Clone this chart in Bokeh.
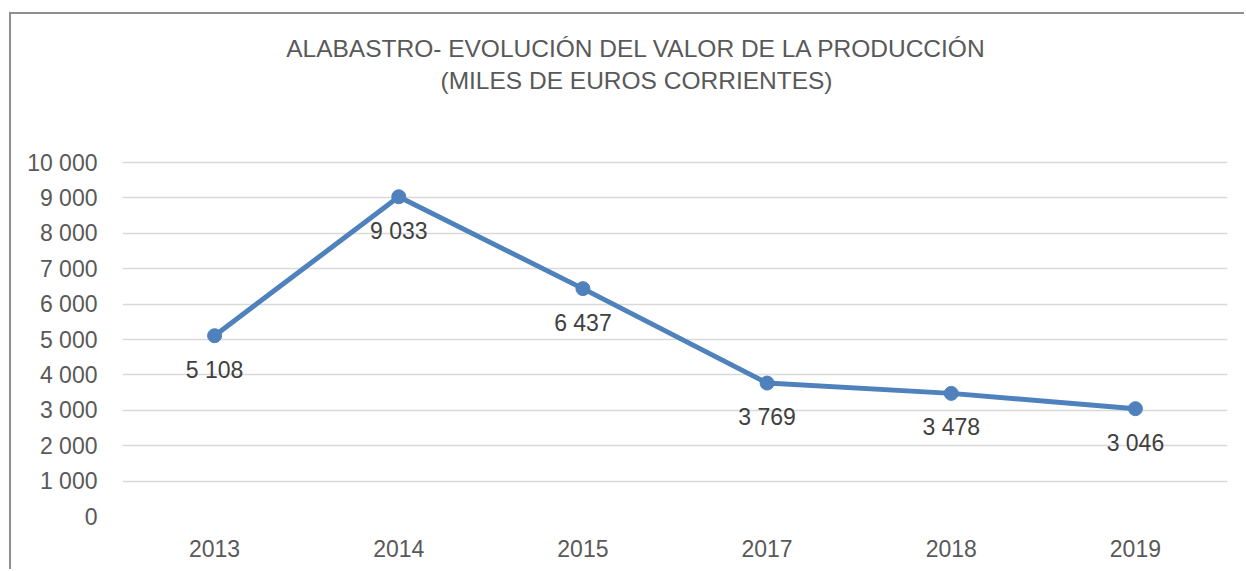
from bokeh.plotting import figure
from bokeh.models import Range1d, FactorRange, FixedTicker, CustomJSTickFormatter, ColumnDataSource, Label
from bokeh.core.properties import value
from bokeh.embed import file_html
from bokeh.resources import INLINE

years = ["2013", "2014", "2015", "2017", "2018", "2019"]
valores = [5108, 9033, 6437, 3769, 3478, 3046]
yticks = [0, 1000, 2000, 3000, 4000, 5000, 6000, 7000, 8000, 9000, 10000]
title_1 = "ALABASTRO- EVOLUCIÓN DEL VALOR DE LA PRODUCCIÓN"
title_2 = "(MILES DE EUROS CORRIENTES)"

def fmt(v):
    return "{:,}".format(v).replace(",", " ")

labels = [fmt(v) for v in valores]
src = ColumnDataSource(dict(x=years, y=valores, lab=labels))

FONT = "Liberation Sans"
GRAY = "#595959"
BLUE = "#4F81BD"

W, H = 1235, 557
BOTTOM = 55
# frame covers title area too; 10000 gridline sits 354px above the zero line
frame_h = H - BOTTOM
y_top = 10000 * frame_h / 354.0

p = figure(width=W, height=H, output_backend="svg", toolbar_location=None,
           x_range=FactorRange(*years, range_padding=0), y_range=Range1d(0, y_top),
           min_border_left=111, min_border_right=19, min_border_top=0, min_border_bottom=BOTTOM)
p.margin = (12, 0, 0, 9)
p.styles = {"border-left": "2px solid #8f8f8f", "border-top": "2px solid #8f8f8f"}
p.outline_line_color = None
p.background_fill_color = "white"
p.border_fill_color = "white"

p.xgrid.grid_line_color = None
p.ygrid.grid_line_color = "#d9d9d9"
p.ygrid.grid_line_width = 1.5

p.yaxis.ticker = FixedTicker(ticks=yticks)
p.yaxis.formatter = CustomJSTickFormatter(code="return tick.toString().replace(/\\B(?=(\\d{3})+(?!\\d))/g, ' ');")
for ax in (p.xaxis[0], p.yaxis[0]):
    ax.axis_line_color = None
    ax.major_tick_line_color = None
    ax.minor_tick_line_color = None
    ax.major_label_text_font = FONT
    ax.major_label_text_font_size = "23px"
    ax.major_label_text_color = GRAY
p.yaxis.major_label_standoff = 19
p.xaxis.major_label_standoff = 17

p.line("x", "y", source=src, line_color=BLUE, line_width=5)
p.scatter("x", "y", source=src, size=14, fill_color=BLUE, line_color=BLUE)
p.text("x", "y", text="lab", source=src, text_font=value(FONT), text_font_size="23px",
       text_color="#404040", text_align="center", text_baseline="middle", y_offset=34)

p.add_layout(Label(x=623, y=32, x_units="canvas", y_units="canvas", text=title_1,
                   text_font=FONT, text_font_size="24.5px", text_color=GRAY,
                   text_align="center", text_baseline="middle"))
p.add_layout(Label(x=623, y=64, x_units="canvas", y_units="canvas", text=title_2,
                   text_font=FONT, text_font_size="24.5px", text_color=GRAY,
                   text_align="center", text_baseline="middle"))

open("out.html", "w").write(file_html(p, INLINE))
